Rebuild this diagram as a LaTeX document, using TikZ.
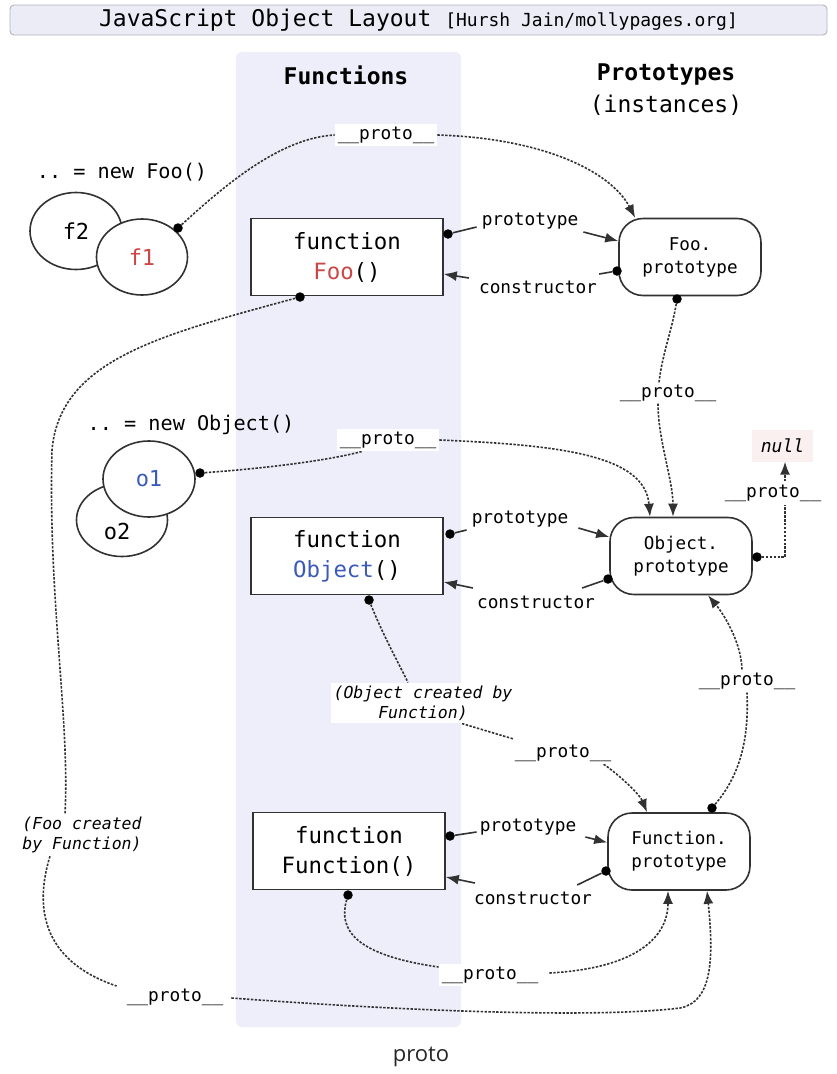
\documentclass[tikz,border=0pt]{standalone}
\usepackage{fontspec}
\setmainfont{DejaVu Sans}
\setmonofont{DejaVu Sans Mono}[ItalicFont={DejaVu Sans Mono Oblique},BoldFont={DejaVu Sans Mono Bold}]
\newfontfamily\capfont{Open Sans}
\usetikzlibrary{arrows.meta,shapes.geometric,calc}
\definecolor{bandcol}{RGB}{238,238,250}
\definecolor{titlefill}{RGB}{236,236,247}
\definecolor{titledraw}{RGB}{178,178,196}
\definecolor{fred}{RGB}{205,70,70}
\definecolor{oblue}{RGB}{60,90,185}
\definecolor{linecol}{RGB}{50,50,50}
\definecolor{nullfill}{RGB}{251,240,240}
\pgfdeclarelayer{bg}
\pgfdeclarelayer{mid}
\pgfsetlayers{bg,mid,main}
\newcommand\fsz[2]{\fontsize{#1pt}{#2pt}\selectfont}
\newcommand\protolbl{\_\_proto\_\_}
\begin{document}
\begin{tikzpicture}[x=1pt,y=-1pt,
  lnk/.style={draw=linecol, line width=1.6pt},
  conn/.style={draw=linecol, line width=1.6pt, dash pattern=on 2.4pt off 1.5pt},
  arr/.style={-{Latex[length=13pt,width=10pt]}},
  dotn/.style={circle, fill=black, inner sep=0pt, minimum size=9.5pt},
  fnbox/.style={draw=linecol, line width=1.6pt, fill=white, minimum width=192pt, minimum height=77pt, align=center, font=\ttfamily\fsz{22.4}{30}, inner sep=0pt},
  pbox/.style={draw=linecol, line width=1.6pt, fill=white, rounded corners=24pt, minimum width=142pt, minimum height=77pt, align=center, font=\ttfamily\fsz{17.6}{23}, inner sep=0pt},
  lab/.style={font=\ttfamily\fsz{17.8}{22}, inner sep=2pt},
  plab/.style={font=\ttfamily\fsz{17.8}{22}, fill=white, inner sep=3pt},
  note/.style={font=\ttfamily\itshape\fsz{16.5}{20}, fill=white, align=center, inner sep=3pt},
  inst/.style={ellipse, draw=linecol, line width=1.6pt, fill=white, inner sep=0pt, font=\ttfamily\fsz{22}{26}},
  newl/.style={font=\ttfamily\fsz{20.2}{24}, inner sep=2pt}
]
\useasboundingbox (0,0) rectangle (837,1074);
\begin{pgfonlayer}{bg}
  \fill[white] (0,0) rectangle (837,1074);
  \fill[bandcol, rounded corners=6pt] (236,52) rectangle (461,1027);
\end{pgfonlayer}

% title and headers
\node[draw=titledraw, fill=titlefill, rounded corners=4pt, line width=0.9pt, minimum width=817pt, minimum height=30pt, inner sep=0pt, font=\ttfamily\fsz{23}{26}] (title) at (418.5,20) {JavaScript Object Layout {\fsz{18}{20}[Hursh Jain/mollypages.org]}};
\node[font=\ttfamily\bfseries\fsz{23}{28}] (hfun) at (346,75) {Functions};
\node[font=\ttfamily\bfseries\fsz{23}{28}] (hpro) at (666,75) {Prototypes};
\node[font=\ttfamily\fsz{23}{28}] (hins) at (666,105) {(instances)};

% Foo row
\node[newl] (newfoo) at (122,172) {.. = new Foo()};
\node[inst, minimum width=92pt, minimum height=77pt] (f2) at (76,231) {f2};
\node[inst, minimum width=91pt, minimum height=76pt] (f1) at (142,257) {\textcolor{fred}{f1}};
\node[fnbox] (foo) at (347,257) {function\\\textcolor{fred}{Foo}()};
\node[pbox] (foop) at (690,257) {Foo.\\prototype};
\node[plab] (p1) at (386,135) {\protolbl};
\node[dotn] (f1d) at (178,228) {};
\node[dotn] (fooPd) at (448,234) {};
\node[lab] (fooPl) at (530,221) {prototype};
\node[dotn] (fooCd) at (617,271) {};
\node[lab] (fooCl) at (538,287) {constructor};
\node[dotn] (foopb) at (677,299) {};
\node[lab] (p3) at (668,393) {\protolbl};
\node[dotn] (foob) at (300,297) {};

% Object row
\node[newl] (newobj) at (191,425) {.. = new Object()};
\node[inst, minimum width=91pt, minimum height=73pt] (o2) at (122,520) {};
\node[font=\ttfamily\fsz{22}{26}] (o2t) at (117,531) {o2};
\node[inst, minimum width=92pt, minimum height=76pt] (o1) at (149,479) {\textcolor{oblue}{o1}};
\node[dotn] (o1d) at (200,473) {};
\node[plab] (p2) at (388,440) {\protolbl};
\node[fnbox] (obj) at (347,556) {function\\\textcolor{oblue}{Object}()};
\node[pbox] (objp) at (681,556) {Object.\\prototype};
\node[dotn] (objPd) at (450,534) {};
\node[lab] (objPl) at (520,519) {prototype};
\node[dotn] (objCd) at (608,579) {};
\node[lab] (objCl) at (536,602) {constructor};
\node[dotn] (objpr) at (757,557) {};
\node[plab] (pn) at (773,493) {\protolbl};
\node[font=\ttfamily\itshape\fsz{18}{20}, fill=nullfill, minimum width=61pt, minimum height=32pt, inner sep=0pt] (nul) at (782.5,445.5) {null};
\node[dotn] (objb) at (369,600) {};
\node[note] (objc) at (423,703) {(Object created by\\Function)};
\node[plab] (pOF) at (563,753) {\protolbl};

% Function row
\node[fnbox] (fn) at (349,851) {function\\Function()};
\node[pbox] (fnp) at (679,851.5) {Function.\\prototype};
\node[dotn] (fnPd) at (450,836) {};
\node[lab] (fnPl) at (528,827) {prototype};
\node[dotn] (fnCd) at (606,871) {};
\node[lab] (fnCl) at (533,898) {constructor};
\node[dotn] (fnpt) at (712,808) {};
\node[plab] (pFO) at (747,681) {\protolbl};
\node[dotn] (fnb) at (348,895) {};
\node[plab] (pFF) at (490,975) {\protolbl};
\node[note] (fooc) at (82,835) {(Foo created\\by Function)};
\node[plab] (pL) at (175,997) {\protolbl};

\node[font=\capfont\fsz{22}{26}, text=black!85] (cap) at (421,1057) {proto};

\begin{pgfonlayer}{mid}
  % prototype / constructor links
  \draw[lnk] (fooPd) -- ($(fooPl.west)+(-3,6)$);
  \draw[lnk,arr] ($(fooPl.east)+(3,11)$) -- ($(foop.west)+(0,-16)$);
  \draw[lnk] (fooCd) -- ($(fooCl.east)+(0,-13)$);
  \draw[lnk,arr] ($(fooCl.west)+(-8,-9)$) -- ($(foo.east)+(0,17)$);

  \draw[lnk] (objPd) -- ($(objPl.west)+(-3,11)$);
  \draw[lnk,arr] ($(objPl.east)+(8,9)$) -- ($(objp.west)+(0,-19)$);
  \draw[lnk] (objCd) -- ($(objCl.east)+(-15,-14)$);
  \draw[lnk,arr] ($(objCl.west)+(-2,-14)$) -- ($(obj.east)+(0,26)$);

  \draw[lnk] (fnPd) -- ($(fnPl.west)+(-1,5)$);
  \draw[lnk,arr] ($(fnPl.east)+(7,10)$) -- ($(fnp.west)+(0,-9)$);
  \draw[lnk] (fnCd) -- ($(fnCl.east)+(-17,-13)$);
  \draw[lnk,arr] ($(fnCl.west)+(3,-15)$) -- ($(fn.east)+(0,26)$);

  % __proto__ chains
  \draw[conn] (f1d) .. controls (225,185) and (280,138) .. (p1.west);
  \draw[conn,arr] (p1.east) .. controls (540,138) and (610,170) .. ($(foop.north west)+(17,0)$);

  \draw[conn] (foopb) .. controls (672,330) and (662,355) .. ($(p3.north)+(-9,0)$);
  \draw[conn,arr] ($(p3.south)+(-10,0)$) .. controls (658,440) and (673,480) .. ($(objp.north)+(-8,0)$);

  \draw[conn] (o1d) .. controls (270,468) and (330,460) .. ($(p2.south west)+(25,0)$);
  \draw[conn,arr] (p2.east) .. controls (560,445) and (645,455) .. ($(objp.north)+(-31,0)$);

  \draw[conn] (objpr) -| ($(pn.south)+(12,0)$);
  \draw[conn,arr] ($(pn.north)+(12,0)$) -- ($(nul.south)+(2.5,0)$);

  \draw[conn] (objb) .. controls (383,635) and (398,662) .. ($(objc.north)+(-15,0)$);
  \draw[conn] ($(objc.south)+(39,0)$) -- ($(pOF.west)+(2,-14)$);
  \draw[conn,arr] ($(pOF.east)+(-14,9)$) .. controls (620,775) and (640,795) .. ($(fnp.north)+(-32,0)$);

  \draw[conn] (fnpt) .. controls (740,775) and (749,740) .. (pFO.south);
  \draw[conn,arr] ($(pFO.north)+(-5,0)$) .. controls (741,640) and (722,612) .. ($(objp.south)+(27,0)$);

  \draw[conn] (fnb) .. controls (338,930) and (355,955) .. ($(pFF.west)+(0,-8)$);
  \draw[conn,arr] ($(pFF.east)+(8,-2)$) .. controls (640,968) and (668,935) .. ($(fnp.south)+(-11,0)$);

  \draw[conn] (foob) .. controls (160,335) and (60,360) .. (52,450) .. controls (48,600) and (70,720) .. ($(fooc.north)+(-17,0)$);
  \draw[conn] ($(fooc.south)+(-32,0)$) .. controls (35,905) and (40,960) .. ($(pL.west)+(-7,-11)$);
  \draw[conn,arr] ($(pL.east)+(5,1)$) .. controls (420,1012) and (600,1018) .. (680,1008) .. controls (712,1002) and (714,960) .. ($(fnp.south)+(28,0)$);
\end{pgfonlayer}
\end{tikzpicture}
\end{document}
